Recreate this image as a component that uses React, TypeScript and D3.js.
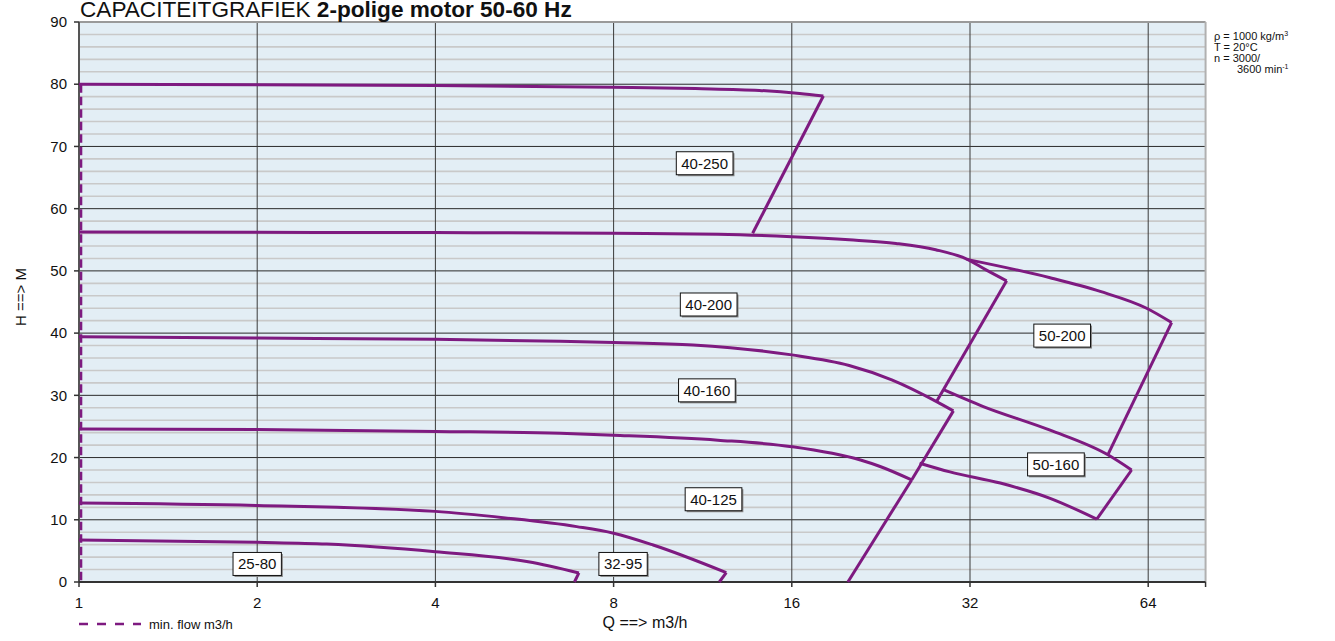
import React from "react";
import * as d3 from "d3";

// ---- data (Q in m3/h, H in m) ----
const xTicks = [1, 2, 4, 8, 16, 32, 64];
const yTicks = [0, 10, 20, 30, 40, 50, 60, 70, 80, 90];

const pump40250: [number, number][] = [[1, 80], [2, 79.9], [4, 79.8], [8, 79.5], [11, 79.3], [14.1, 79.0], [16.5, 78.5], [18.09, 78.1]];
const pump40200: [number, number][] = [[1, 56.25], [2, 56.2], [4, 56.15], [8, 56.05], [12, 55.9], [16, 55.5], [20, 55.0], [24, 54.4], [28, 53.4], [31.6, 51.9], [34, 50.2], [36.9, 48.4]];
const pump40160: [number, number][] = [[1, 39.4], [2, 39.2], [4, 39.0], [6.5, 38.7], [8, 38.5], [10.9, 38.1], [16, 36.5], [20, 34.8], [23.6, 32.5], [28.1, 29.0], [30.0, 27.5]];
const pump40125: [number, number][] = [[1, 24.6], [2, 24.5], [4, 24.2], [6.5, 23.9], [8, 23.6], [12, 22.8], [16, 21.75], [20.9, 19.6], [22.5, 18.6], [25.5, 16.4]];
const pump3295: [number, number][] = [[1, 12.7], [2, 12.3], [4, 11.35], [5.25, 10.3], [6.93, 8.9], [8, 7.84], [9.33, 5.95], [12.4, 1.51]];
const pump2580: [number, number][] = [[1, 6.76], [2, 6.38], [2.62, 6.1], [4, 4.86], [5.74, 3.24], [6.99, 1.46]];
const pump50200: [number, number][] = [[31.6, 51.85], [43.7, 48.9], [53.1, 46.7], [63.6, 44.0], [70.1, 41.7]];
const pump50160: [number, number][] = [[28.8, 30.95], [33.7, 28.2], [43.7, 24.4], [54.8, 20.4], [60.0, 18.0]];
const pump50125: [number, number][] = [[26.3, 19.1], [29.6, 17.7], [36.0, 15.9], [43.7, 13.45], [52.4, 10.1]];

const endLines: [number, number][][] = [
  [[18.09, 78.1], [13.74, 56.05]],
  [[36.9, 48.4], [28.1, 29.0]],
  [[30.0, 27.5], [25.5, 16.4]],
  [[25.5, 16.4], [19.9, 0]],
  [[12.4, 1.51], [12.07, 0]],
  [[6.99, 1.46], [6.87, 0]],
  [[70.1, 41.7], [54.8, 20.6]],
  [[60.0, 18.0], [52.4, 10.1]],
];

const labelNames = ["40-250", "40-200", "40-160", "40-125", "32-95", "25-80", "50-200", "50-160"];
const labelQ = [11.4, 11.58, 11.5, 11.8, 8.3, 2.0, 45.8, 44.7];
const labelH = [67.3, 44.6, 30.8, 13.3, 2.9, 2.9, 39.6, 18.9];

const minFlow: [number, number][] = [[1, 80], [1, 0]];

const FONT = "'Liberation Sans', Arial, Helvetica, sans-serif";
const PURPLE = "#7e1a80";

export default function App() {
  const W = 1335, Hh = 641;
  const x = d3.scaleLog().base(2).domain([1, 80]).range([79, 79 + 178.2 * Math.log2(80)]);
  const y = d3.scaleLinear().domain([0, 90]).range([582, 22]);
  const x0 = x.range()[0], x1 = x.range()[1];
  const line = d3.line<[number, number]>().x(d => x(d[0])).y(d => y(d[1])).curve(d3.curveMonotoneX);
  const straight = d3.line<[number, number]>().x(d => x(d[0])).y(d => y(d[1]));

  const minor = d3.range(2, 90, 2).filter(v => v % 10 !== 0);
  const major = d3.range(10, 90, 10);
  const curves = [pump40250, pump40200, pump40160, pump40125, pump3295, pump2580, pump50200, pump50160, pump50125];

  const textW = (s: string) => s.split("").reduce((a, c) => a + (c === "-" ? 5.0 : 8.34), 0);

  return (
    <svg width={W} height={Hh} style={{ position: "absolute", left: 0, top: 0, fontFamily: FONT }}>
      <rect x={0} y={0} width={W} height={Hh} fill="#fff" />
      <rect x={x0} y={y(90)} width={x1 - x0} height={y(0) - y(90)} fill="#e3eef5" />
      {minor.map(v => (
        <line key={"mi" + v} x1={x0} x2={x1} y1={y(v)} y2={y(v)} stroke="#c9c9c9" strokeWidth={1.6} />
      ))}
      {major.map(v => (
        <line key={"ma" + v} x1={x0} x2={x1} y1={y(v)} y2={y(v)} stroke="#2a2a2a" strokeWidth={1} />
      ))}
      {xTicks.slice(1).map(v => (
        <line key={"vx" + v} x1={x(v)} x2={x(v)} y1={y(90)} y2={y(0)} stroke="#3a3a3a" strokeWidth={1} />
      ))}
      <line x1={x0} x2={x1} y1={y(90)} y2={y(90)} stroke="#9a9a9a" strokeWidth={2} />
      <line x1={x1} x2={x1} y1={y(90)} y2={y(0)} stroke="#b0b0b0" strokeWidth={2} />
      {/* axes */}
      <line x1={x0} x2={x0} y1={y(90)} y2={y(0)} stroke="#555" strokeWidth={2} />
      <line x1={x0} x2={x1} y1={y(0)} y2={y(0)} stroke="#333" strokeWidth={2} />
      {yTicks.map(v => (
        <g key={"yt" + v}>
          <line x1={x0 - 5} x2={x0} y1={y(v)} y2={y(v)} stroke="#333" strokeWidth={1.5} />
          <text x={67} y={y(v)} dy="0.35em" textAnchor="end" fontSize={15} fill="#111">{v}</text>
        </g>
      ))}
      {xTicks.map(v => (
        <g key={"xt" + v}>
          <line x1={x(v)} x2={x(v)} y1={y(0)} y2={y(0) + 5} stroke="#333" strokeWidth={1.5} />
          <text x={x(v)} y={608} textAnchor="middle" fontSize={15} fill="#111">{v}</text>
        </g>
      ))}
      <line x1={x1} x2={x1} y1={y(0)} y2={y(0) + 5} stroke="#333" strokeWidth={1.5} />

      {/* min flow */}
      <path d={straight(minFlow.map(d => [d[0] * 1.008, d[1]] as [number, number])) || ""} fill="none" stroke={PURPLE} strokeWidth={2.5} strokeDasharray="8.5,4" />

      {/* curves */}
      {curves.map((c, i) => (
        <path key={"c" + i} d={line(c) || ""} fill="none" stroke={PURPLE} strokeWidth={3} strokeLinejoin="round" />
      ))}
      {endLines.map((c, i) => (
        <path key={"e" + i} d={straight(c) || ""} fill="none" stroke={PURPLE} strokeWidth={3} />
      ))}

      {/* labels */}
      {labelNames.map((n, i) => {
        const cx = x(labelQ[i]), cy = y(labelH[i]);
        const w = textW(n) + 10, h = 23;
        return (
          <g key={"l" + n}>
            <rect x={cx - w / 2 + 1.5} y={cy - h / 2 + 1.5} width={w} height={h} fill="#8a8a8a" />
            <rect x={cx - w / 2} y={cy - h / 2} width={w} height={h} fill="#fff" stroke="#111" strokeWidth={1} />
            <text x={cx} y={cy} dy="0.36em" textAnchor="middle" fontSize={15} fill="#111">{n}</text>
          </g>
        );
      })}

      {/* title */}
      <text x={80} y={16.5} fontSize={22.6} fill="#111" style={{ whiteSpace: "pre" }}>
        CAPACITEITGRAFIEK <tspan fontWeight="bold">2-polige motor 50-60 Hz</tspan>
      </text>

      {/* axis titles */}
      <text transform="translate(26,297) rotate(-90)" textAnchor="middle" fontSize={15} fill="#111" style={{ whiteSpace: "pre" }}>H ==&gt; M</text>
      <text x={645} y={628} textAnchor="middle" fontSize={16} fill="#111" style={{ whiteSpace: "pre" }}>Q ==&gt; m3/h</text>

      {/* legend */}
      <line x1={79} x2={141} y1={624} y2={624} stroke={PURPLE} strokeWidth={2.5} strokeDasharray="9,9" />
      <text x={149} y={629} fontSize={13} fill="#111">min. flow m3/h</text>

      {/* conditions */}
      <g fontSize={11} fill="#111" style={{ whiteSpace: "pre" }}>
        <text x={1214} y={40}>ρ  =  1000 kg/m<tspan dy={-4} fontSize={7}>3</tspan></text>
        <text x={1214} y={51}>T  =  20°C</text>
        <text x={1214} y={62}>n  =  3000/</text>
        <text x={1237} y={73}>3600 min<tspan dy={-4} fontSize={7}>-1</tspan></text>
      </g>
    </svg>
  );
}
